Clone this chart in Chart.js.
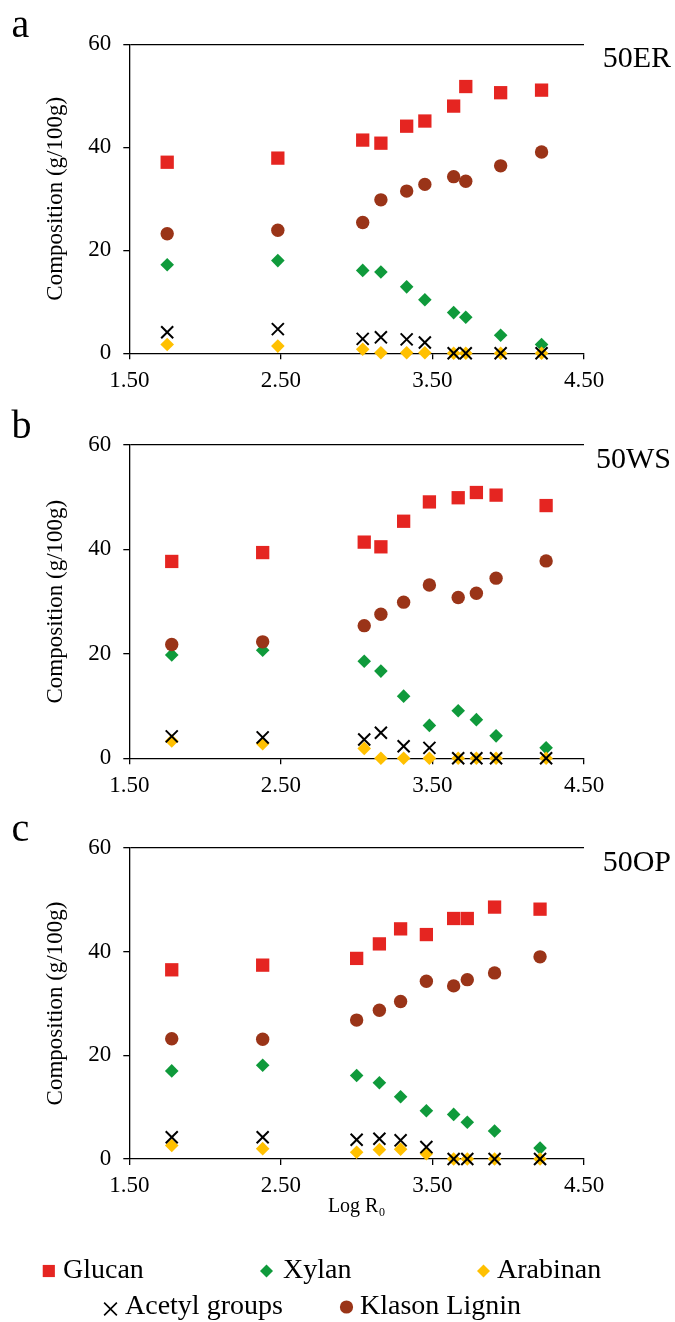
<!DOCTYPE html>
<html><head><meta charset="utf-8">
<script src="https://cdn.jsdelivr.net/npm/chart.js@4.4.0/dist/chart.umd.min.js"></script>
<style>
html,body{margin:0;padding:0;background:#fff}
body{width:675px;height:1322px;overflow:hidden;position:relative}
canvas{position:absolute;left:0}
</style></head><body>
<canvas id="ca" width="675" height="400" style="top:0px"></canvas>
<canvas id="cb" width="675" height="400" style="top:400px"></canvas>
<canvas id="cc" width="675" height="522" style="top:800px"></canvas>
<script>
// ---------- data ----------
const seriesNames = ['Glucan', 'Xylan', 'Arabinan', 'Acetyl groups', 'Klason Lignin'];
const panelLetters = ['a', 'b', 'c'];
const panelNames = ['50ER', '50WS', '50OP'];
const xTickValues = [1.5, 2.5, 3.5, 4.5];
const xTickLabels = ['1.50', '2.50', '3.50', '4.50'];
const yTickValues = [0, 20, 40, 60];
const yTickLabels = ['0', '20', '40', '60'];
const xTitle = 'Log R\u2080';
const yTitle = 'Composition (g/100g)';

// 50ER
const logR0_ER    = [1.75, 2.48, 3.04, 3.16, 3.33, 3.45, 3.64, 3.72, 3.95, 4.22];
const glucan_ER   = [37.1, 37.9, 41.4, 40.8, 44.1, 45.1, 48.0, 51.8, 50.6, 51.1];
const xylan_ER    = [17.2, 18.0, 16.1, 15.8, 12.9, 10.4, 7.9, 7.0, 3.5, 1.7];
const arabinan_ER = [1.7, 1.4, 0.8, 0.1, 0.1, 0.1, 0, 0, 0, 0];
const acetyl_ER   = [4.1, 4.7, 2.8, 3.1, 2.7, 2.1, 0, 0, 0, 0];
const lignin_ER   = [23.2, 23.9, 25.4, 29.8, 31.5, 32.8, 34.3, 33.4, 36.4, 39.1];

// 50WS
const logR0_WS    = [1.78, 2.38, 3.05, 3.16, 3.31, 3.48, 3.67, 3.79, 3.92, 4.25];
const glucan_WS   = [37.7, 39.4, 41.4, 40.5, 45.4, 49.1, 49.9, 50.9, 50.4, 48.4];
const xylan_WS    = [19.8, 20.7, 18.6, 16.7, 11.9, 6.3, 9.1, 7.4, 4.3, 2.0];
const arabinan_WS = [3.3, 2.8, 1.9, 0, 0, 0, 0, 0, 0, 0];
const acetyl_WS   = [4.2, 4.0, 3.6, 4.9, 2.3, 2.0, 0, 0, 0, 0];
const lignin_WS   = [21.8, 22.3, 25.4, 27.6, 29.9, 33.2, 30.8, 31.6, 34.5, 37.8];

// 50OP
const logR0_OP    = [1.78, 2.38, 3.00, 3.15, 3.29, 3.46, 3.64, 3.73, 3.91, 4.21];
const glucan_OP   = [36.5, 37.4, 38.7, 41.5, 44.4, 43.3, 46.4, 46.4, 48.6, 48.2];
const xylan_OP    = [17.0, 18.1, 16.1, 14.7, 12.0, 9.3, 8.6, 7.1, 5.4, 2.1];
const arabinan_OP = [2.6, 2.0, 1.3, 1.8, 1.9, 1.0, 0, 0, 0, 0];
const acetyl_OP   = [4.2, 4.2, 3.7, 3.9, 3.6, 2.3, 0, 0, 0, 0];
const lignin_OP   = [23.2, 23.1, 26.8, 28.7, 30.4, 34.3, 33.4, 34.6, 35.9, 39.0];

// ---------- styles ----------
const FONT = "'Liberation Serif', 'Times New Roman', serif";
const styles = [
  {color: '#E52521', pointStyle: 'rect',     radius: 9.4, borderWidth: 0, order: 5},
  {color: '#0F9A3B', pointStyle: 'rectRot',  radius: 6.8, borderWidth: 0, order: 4},
  {color: '#FFC000', pointStyle: 'rectRot',  radius: 6.8, borderWidth: 0, order: 3},
  {color: '#000000', pointStyle: 'crossRot', radius: 8.5, borderWidth: 2, order: 2},
  {color: '#9A3418', pointStyle: 'circle',   radius: 6.7, borderWidth: 0, order: 1}
];

function pairs(xs, ys) { return xs.map((v, i) => ({x: v, y: ys[i]})); }

function buildDatasets(xs, seriesList) {
  return seriesList.map((ys, k) => ({
    label: seriesNames[k],
    data: pairs(xs, ys),
    pointStyle: styles[k].pointStyle,
    pointRadius: styles[k].radius,
    pointHoverRadius: styles[k].radius,
    backgroundColor: styles[k].color,
    borderColor: styles[k].color,
    pointBorderWidth: styles[k].borderWidth,
    showLine: false,
    clip: false,
    order: styles[k].order
  }));
}

const panels = [
  {id: 'ca', idx: 0, padTop: 44.3, xHeight: 46.7, padBottom: 0, showTitle: false,
   ds: buildDatasets(logR0_ER, [glucan_ER, xylan_ER, arabinan_ER, acetyl_ER, lignin_ER])},
  {id: 'cb', idx: 1, padTop: 45.0, xHeight: 41.7, padBottom: 0, showTitle: false,
   ds: buildDatasets(logR0_WS, [glucan_WS, xylan_WS, arabinan_WS, acetyl_WS, lignin_WS])},
  {id: 'cc', idx: 2, padTop: 48.0, xHeight: 65.5, padBottom: 97.5, showTitle: true,
   ds: buildDatasets(logR0_OP, [glucan_OP, xylan_OP, arabinan_OP, acetyl_OP, lignin_OP])}
];

const panelTextPlugin = {
  id: 'panelText',
  afterDraw(chart, args, opts) {
    const ctx = chart.ctx, ca = chart.chartArea;
    ctx.save();
    ctx.fillStyle = '#000';
    ctx.textBaseline = 'alphabetic';
    ctx.textAlign = 'left';
    ctx.font = '40px ' + FONT;
    ctx.fillText(opts.letter, 11.5, ca.top - 7.3);
    ctx.textAlign = 'right';
    ctx.font = '30px ' + FONT;
    ctx.fillText(opts.name, 671, ca.top + 22.5);
    ctx.restore();
  }
};

function marker(ctx, style, color, r, lw, x, y) {
  ctx.save();
  ctx.fillStyle = color; ctx.strokeStyle = color; ctx.lineWidth = lw;
  ctx.beginPath();
  if (style === 'rect') {
    const s = Math.SQRT1_2 * r; ctx.rect(x - s, y - s, 2 * s, 2 * s); ctx.fill();
  } else if (style === 'rectRot') {
    ctx.moveTo(x - r, y); ctx.lineTo(x, y - r); ctx.lineTo(x + r, y); ctx.lineTo(x, y + r);
    ctx.closePath(); ctx.fill();
  } else if (style === 'circle') {
    ctx.arc(x, y, r, 0, Math.PI * 2); ctx.fill();
  } else {
    const o = Math.SQRT1_2 * r;
    ctx.moveTo(x - o, y - o); ctx.lineTo(x + o, y + o);
    ctx.moveTo(x + o, y - o); ctx.lineTo(x - o, y + o); ctx.stroke();
  }
  ctx.restore();
}

const legendLayout = [
  {mx: 48.8, my: 471, tx: 63, ty: 478, r: 8.6},
  {mx: 266.5, my: 471, tx: 283, ty: 478, r: 6.5},
  {mx: 483.5, my: 471, tx: 497, ty: 478, r: 6.5},
  {mx: 110.5, my: 509, tx: 125, ty: 514, r: 9.0, lw: 1.6},
  {mx: 346.5, my: 507, tx: 360, ty: 514, r: 6.6}
];

const legendPlugin = {
  id: 'bottomLegend',
  afterDraw(chart, args, opts) {
    if (!opts.show) return;
    const ctx = chart.ctx;
    chart.data.datasets.forEach((d, k) => {
      const L = legendLayout[k];
      marker(ctx, styles[k].pointStyle, styles[k].color, L.r, L.lw || 2, L.mx, L.my);
      ctx.save();
      ctx.fillStyle = '#000';
      ctx.font = '28px ' + FONT;
      ctx.textAlign = 'left';
      ctx.textBaseline = 'alphabetic';
      ctx.fillText(d.label, L.tx, L.ty);
      ctx.restore();
    });
  }
};

panels.forEach(p => {
  new Chart(document.getElementById(p.id), {
    type: 'scatter',
    data: {datasets: p.ds},
    options: {
      responsive: false,
      animation: false,
      events: [],
      devicePixelRatio: 1,
      layout: {padding: {left: 0, right: 91, top: p.padTop, bottom: p.padBottom}},
      plugins: {
        legend: {display: false},
        tooltip: {enabled: false},
        panelText: {letter: panelLetters[p.idx], name: panelNames[p.idx]},
        bottomLegend: {show: p.showTitle}
      },
      scales: {
        x: {
          type: 'linear',
          min: xTickValues[0],
          max: xTickValues[xTickValues.length - 1],
          afterBuildTicks: s => { s.ticks = xTickValues.map(v => ({value: v})); },
          afterFit: s => { s.height = p.xHeight; },
          border: {display: true, color: '#000', width: 1.3},
          grid: {display: true, drawOnChartArea: false, color: '#000', tickColor: '#000', tickLength: 6, lineWidth: 1.3},
          ticks: {
            color: '#000', padding: 7.5, maxRotation: 0, autoSkip: false,
            font: {family: FONT, size: 23},
            callback: (v) => xTickLabels[xTickValues.indexOf(v)]
          },
          title: {
            display: p.showTitle, text: xTitle, color: '#000',
            font: {family: FONT, size: 20}, padding: {top: 0, bottom: 6}
          }
        },
        y: {
          type: 'linear',
          min: yTickValues[0],
          max: yTickValues[yTickValues.length - 1],
          afterBuildTicks: s => { s.ticks = yTickValues.map(v => ({value: v})); },
          afterFit: s => { s.width = 129.3; },
          border: {display: true, color: '#000', width: 1.3},
          grid: {
            display: true, drawOnChartArea: true,
            color: c => (c.tick && c.tick.value === yTickValues[yTickValues.length - 1]) ? '#000' : 'rgba(0,0,0,0)',
            tickColor: '#000', tickLength: 6, lineWidth: 1.3
          },
          ticks: {
            color: '#000', padding: 12, autoSkip: false,
            font: {family: FONT, size: 23},
            callback: (v) => yTickLabels[yTickValues.indexOf(v)]
          },
          title: {
            display: true, text: yTitle, color: '#000',
            font: {family: FONT, size: 23}, padding: {top: 42, bottom: 0}
          }
        }
      }
    },
    plugins: [panelTextPlugin, legendPlugin]
  });
});
</script>
</body></html>
